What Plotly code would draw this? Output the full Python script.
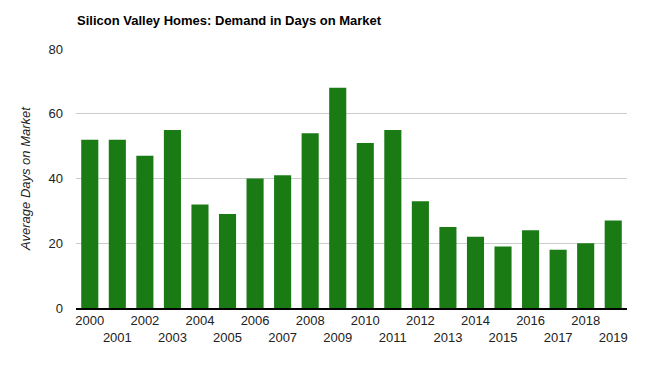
import plotly.graph_objects as go

years = [str(y) for y in range(2000, 2020)]
days = [52, 52, 47, 55, 32, 29, 40, 41, 54, 68, 51, 55, 33, 25, 22, 19, 24, 18, 20, 27]
tick_labels = [y if i % 2 == 0 else "<br>" + y for i, y in enumerate(years)]
y_ticks = [0, 20, 40, 60, 80]

fig = go.Figure(go.Bar(x=years, y=days, marker=dict(color="#1a7a14", line=dict(width=0))))

fig.update_layout(
    width=656, height=372,
    margin=dict(l=76, r=29, t=49, b=64),
    paper_bgcolor="white", plot_bgcolor="white",
    font=dict(family="Liberation Sans, Arial, sans-serif", size=13, color="#222"),
    title=dict(text="<b>Silicon Valley Homes: Demand in Days on Market</b>",
               x=77/656, xanchor="left", y=1 - 20/372, yanchor="middle",
               font=dict(size=13, color="#000")),
    bargap=0.38,
    showlegend=False,
)
fig.update_xaxes(
    type="category", tickmode="array", tickvals=years, ticktext=tick_labels,
    showgrid=False, showline=True, linecolor="#000", linewidth=1.5,
    ticks="", tickangle=0, tickfont=dict(size=13, color="#222"),
)
fig.update_yaxes(
    range=[0, 80], tickvals=y_ticks, showgrid=True, gridcolor="#cccccc",
    zeroline=False, showline=False, ticks="", ticklabelstandoff=12,
    tickfont=dict(size=13, color="#222"),
    title=dict(text="<i>Average Days on Market</i>", font=dict(size=13, color="#222"), standoff=14),
)

fig.write_html("out.html", config={"displayModeBar": False},
               post_script="document.body.style.margin='0';document.body.style.overflow='hidden';")
